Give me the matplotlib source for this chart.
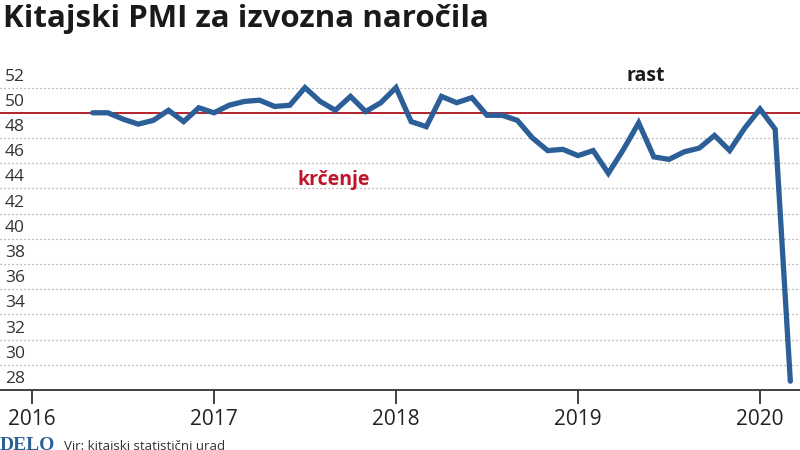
import matplotlib
matplotlib.use("Agg")
import matplotlib.pyplot as plt
import matplotlib.transforms as mtransforms

# ---- data ----
start_year, start_month = 2016, 4
pmi_export = [50.0, 50.0, 49.5, 49.1, 49.4, 50.2, 49.3, 50.4, 50.0,
              50.6, 50.9, 51.0, 50.5, 50.6, 52.0, 50.9, 50.2, 51.3, 50.1, 50.8, 52.0,
              49.3, 48.9, 51.3, 50.8, 51.2, 49.8, 49.8, 49.4, 48.0, 47.0, 47.1, 46.6,
              47.0, 45.2, 47.1, 49.2, 46.5, 46.3, 46.9, 47.2, 48.2, 47.0, 48.8, 50.3,
              48.7, 28.7]
year_ticks = [2016, 2017, 2018, 2019, 2020]
y_ticks = [28, 30, 32, 34, 36, 38, 40, 42, 44, 46, 48, 50, 52]
threshold = 50

# x position: end of each month as fractional year
xs = []
y, m = start_year, start_month
for _ in pmi_export:
    xs.append(y + m / 12.0)
    m += 1
    if m > 12:
        m = 1
        y += 1

plt.rcParams['font.family'] = ['Open Sans', 'DejaVu Sans']

fig = plt.figure(figsize=(8, 4.5), dpi=100)
ax = fig.add_axes([0, 1 - 390 / 450, 1, (390 - 61.5) / 450])
ax.set_xlim(2016 - 32 / 182, 2020 + 40 / 182)
ax.set_ylim(28, 54.07)

for s in ['top', 'right', 'left']:
    ax.spines[s].set_visible(False)
ax.spines['bottom'].set_color('#333333')
ax.spines['bottom'].set_linewidth(1.3)

# grid
for v in y_ticks[1:]:
    ax.axhline(v, color='#9a9a9a', lw=0.9, ls=(0, (1, 2.2)), zorder=1)
ax.axhline(threshold, color='#b5232b', lw=1.4, zorder=2)

ax.set_yticks([])
ax.set_xticks(year_ticks)
ax.set_xticklabels([str(t) for t in year_ticks], fontsize=15, color='#222222')
ax.tick_params(axis='x', length=10, width=1.3, color='#333333', pad=4, direction='out')

off = mtransforms.offset_copy(ax.get_yaxis_transform(), fig=fig, x=0, y=3, units='dots')
for v in y_ticks:
    ax.text(0.006, v, str(v), transform=off, ha='left', va='bottom',
            fontsize=12.5, color='#333333', family=['Open Sans'])

ax.plot(xs, pmi_export, color='#2c5f98', lw=3.8, solid_capstyle='round',
        solid_joinstyle='miter', zorder=3)

ax.text(2019.37, 52.9, 'rast', fontsize=14, fontweight='bold', color='#1a1a1a',
        ha='center', va='center')
ax.text(2017.46, 44.7, 'krčenje', fontsize=14, fontweight='bold', color='#c0142a',
        ha='left', va='center')

fig.text(0.004, 0.958, 'Kitajski PMI za izvozna naročila', fontsize=22.5,
         fontweight='bold', color='#1a1a1a', ha='left', va='center')

fig.text(0.0, -0.008, 'DELO', fontsize=14, fontweight='bold', color='#2c5f98',
         family=['Liberation Serif'], ha='left', va='bottom')
fig.text(0.08, -0.006, 'Vir: kitajski statistični urad', fontsize=9.5,
         color='#333333', ha='left', va='bottom')

fig.savefig('out.png', dpi=100)
